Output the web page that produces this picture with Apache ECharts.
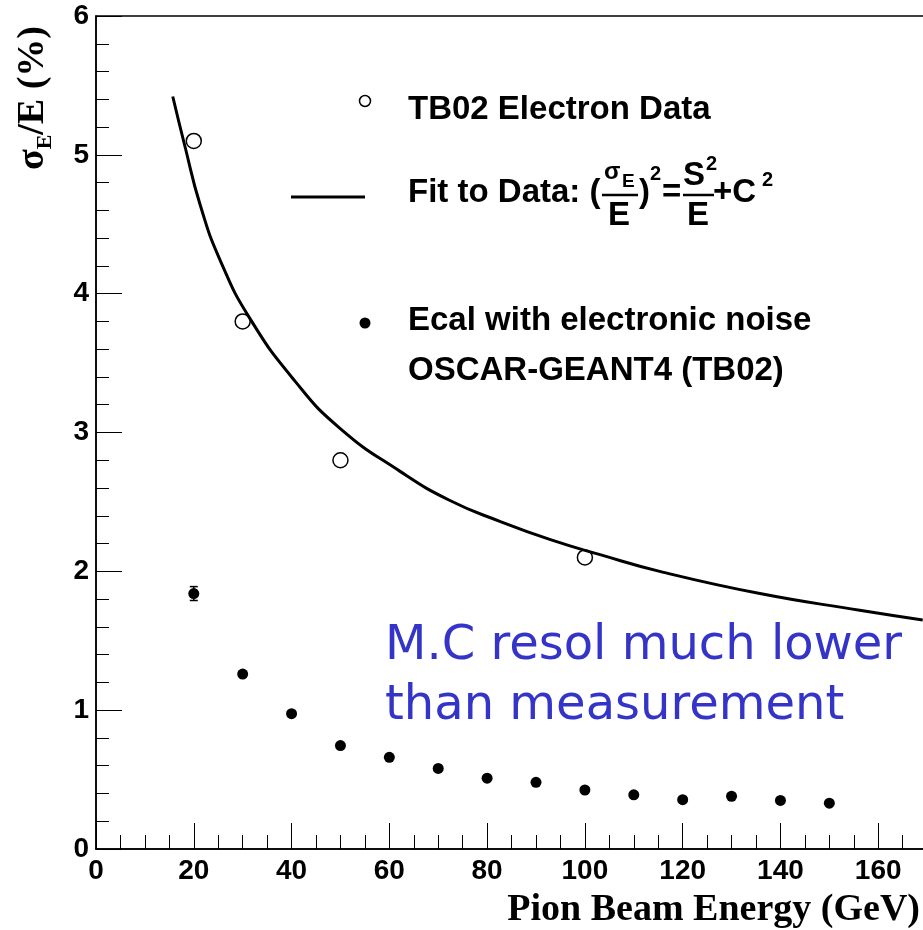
<!DOCTYPE html>
<html>
<head>
<meta charset="utf-8">
<script src="https://cdn.jsdelivr.net/npm/echarts@6/dist/echarts.min.js"></script>
<style>
  html, body { margin: 0; padding: 0; background: #fff; }
  #chart { width: 923px; height: 930px; }
</style>
</head>
<body>
<div id="chart"></div>
<script>
// TB02 electron test-beam measurements (open circles)
const tbEnergy = [20, 30, 50, 100];
const tbResol = [5.10, 3.80, 2.80, 2.10];

// OSCAR-GEANT4 simulation with electronic noise (filled dots)
const mcEnergy = [20, 30, 40, 50, 60, 70, 80, 90, 100, 110, 120, 130, 140, 150];
const mcResol = [1.84, 1.26, 0.975, 0.745, 0.66, 0.58, 0.51, 0.48, 0.425, 0.39, 0.355, 0.38, 0.35, 0.33];
const mcError = [0.05, 0, 0, 0, 0, 0, 0, 0, 0, 0, 0, 0, 0, 0];

// Fitted resolution curve, sampled along its length
const fitEnergy = [15.7, 18.2, 21.3, 25.4, 31.5, 40.7, 49.9, 62.2, 72.4, 82.6, 92.8, 103.1, 115.3, 135.8, 156.2, 169.1];
const fitResol = [5.42, 5.06, 4.64, 4.24, 3.82, 3.37, 3.03, 2.72, 2.51, 2.36, 2.23, 2.12, 2.00, 1.84, 1.72, 1.65];

// Axis ranges
const xRange = [0, 180];
const yRange = [0, 6];

const pair = (xs, ys) => xs.map((x, i) => [x, ys[i]]);

const SANS = 'Liberation Sans, Arial, Helvetica, sans-serif';
const SERIF = 'Liberation Serif, Times New Roman, serif';
const legendFont = 'bold 33px ' + SANS;
const smallFont = 'bold 20px ' + SANS;

const chart = echarts.init(document.getElementById('chart'), null, { renderer: 'canvas' });

function txt(x, y, text, font, extra) {
  return {
    type: 'text', x: x, y: y, silent: true,
    style: Object.assign({ text: text, font: font, fill: '#000', textVerticalAlign: 'middle', textAlign: 'left' }, extra || {})
  };
}

const option = {
  backgroundColor: '#fff',
  animation: false,
  // the frame continues past the right edge of the page
  grid: {
    left: 96, top: 16, width: 880, height: 833,
    outerBoundsMode: 'none', containLabel: false,
    show: true, borderColor: '#000', borderWidth: 1.5, backgroundColor: 'transparent'
  },
  xAxis: {
    type: 'value', min: xRange[0], max: xRange[1], interval: 20,
    axisLine: { show: true, onZero: false, lineStyle: { color: '#000', width: 1.5 } },
    axisTick: { show: true, inside: true, length: 26, lineStyle: { color: '#000', width: 1 } },
    minorTick: { show: true, splitNumber: 4, length: 14, lineStyle: { color: '#000', width: 1 } },
    splitLine: { show: false },
    axisLabel: { show: true, margin: 8, showMaxLabel: false, color: '#000', fontSize: 28, fontWeight: 'bold', fontFamily: SANS }
  },
  yAxis: {
    type: 'value', min: yRange[0], max: yRange[1], interval: 1,
    axisLine: { show: true, onZero: false, lineStyle: { color: '#000', width: 1.5 } },
    axisTick: { show: true, inside: true, length: 26, lineStyle: { color: '#000', width: 1 } },
    minorTick: { show: true, splitNumber: 5, length: 13, lineStyle: { color: '#000', width: 1 } },
    splitLine: { show: false },
    axisLabel: { show: true, margin: 7, color: '#000', fontSize: 28, fontWeight: 'bold', fontFamily: SANS }
  },
  series: [
    {
      name: 'Fit to Data', type: 'line', data: pair(fitEnergy, fitResol),
      smooth: 0.5, showSymbol: false, symbol: 'none',
      lineStyle: { color: '#000', width: 3 }, z: 2
    },
    {
      name: 'TB02 Electron Data', type: 'scatter', data: pair(tbEnergy, tbResol),
      symbol: 'circle', symbolSize: 15,
      itemStyle: { color: 'rgba(255,255,255,0)', borderColor: '#000', borderWidth: 1.5, opacity: 1 }, z: 3
    },
    {
      name: 'MC error', type: 'custom', data: mcEnergy.map((e, i) => [e, mcResol[i], mcError[i]]),
      renderItem: function (params, api) {
        const x = api.value(0), v = api.value(1), err = api.value(2);
        if (!err) return null;
        const lo = api.coord([x, v - err]);
        const hi = api.coord([x, v + err]);
        const cap = 4;
        const st = { stroke: '#000', lineWidth: 1.5 };
        return {
          type: 'group', children: [
            { type: 'line', shape: { x1: lo[0], y1: lo[1], x2: hi[0], y2: hi[1] }, style: st },
            { type: 'line', shape: { x1: lo[0] - cap, y1: lo[1], x2: lo[0] + cap, y2: lo[1] }, style: st },
            { type: 'line', shape: { x1: hi[0] - cap, y1: hi[1], x2: hi[0] + cap, y2: hi[1] }, style: st }
          ]
        };
      }, z: 3
    },
    {
      name: 'Ecal with electronic noise', type: 'scatter', data: pair(mcEnergy, mcResol),
      symbol: 'circle', symbolSize: 11, itemStyle: { color: '#000', opacity: 1 }, z: 4
    }
  ],
  graphic: [
    // y-axis title
    {
      type: 'text', x: 33, y: 98, rotation: Math.PI / 2, silent: true,
      style: {
        text: '{m|σ}{s|E}{m|/E (%)}', textAlign: 'center', textVerticalAlign: 'middle',
        rich: {
          m: { fontFamily: SERIF, fontWeight: 'bold', fontSize: 38, lineHeight: 46, fill: '#000' },
          s: { fontFamily: SERIF, fontWeight: 'bold', fontSize: 22, lineHeight: 22, verticalAlign: 'bottom', fill: '#000' }
        }
      }
    },
    // x-axis title
    txt(920, 910, 'Pion Beam Energy (GeV)', 'bold 38px ' + SERIF, { textAlign: 'right' }),

    // legend: electron data
    { type: 'circle', shape: { cx: 365, cy: 101, r: 5.5 }, style: { fill: 'none', stroke: '#000', lineWidth: 1.5 }, silent: true },
    txt(408, 110, 'TB02 Electron Data', legendFont),

    // legend: fit line and formula
    { type: 'line', shape: { x1: 291, y1: 197, x2: 365, y2: 197 }, style: { stroke: '#000', lineWidth: 3 }, silent: true },
    txt(408, 193, 'Fit to Data: (', legendFont),
    txt(604, 172, 'σ', 'bold 24px ' + SANS),
    txt(622, 182, 'E', 'bold 19px ' + SANS),
    { type: 'line', shape: { x1: 602, y1: 195, x2: 638, y2: 195 }, style: { stroke: '#000', lineWidth: 2.5 }, silent: true },
    txt(619, 216, 'E', legendFont, { textAlign: 'center' }),
    txt(639, 193, ')', legendFont),
    txt(650, 174, '2', smallFont),
    txt(662, 193, '=', legendFont),
    txt(683, 176, 'S', legendFont),
    txt(706, 164, '2', smallFont),
    { type: 'line', shape: { x1: 683, y1: 195, x2: 714, y2: 195 }, style: { stroke: '#000', lineWidth: 2.5 }, silent: true },
    txt(698, 216, 'E', legendFont, { textAlign: 'center' }),
    txt(713, 193, '+C', legendFont),
    txt(762, 180, '2', smallFont),

    // legend: simulation
    { type: 'circle', shape: { cx: 365, cy: 323, r: 5.5 }, style: { fill: '#000' }, silent: true },
    txt(408, 321, 'Ecal with electronic noise', legendFont),
    txt(408, 371, 'OSCAR-GEANT4 (TB02)', legendFont),

    // annotation
    txt(385, 647, 'M.C resol much lower', '48px DejaVu Sans, sans-serif', { fill: '#3434c8' }),
    txt(385, 707, 'than measurement', '48px DejaVu Sans, sans-serif', { fill: '#3434c8' })
  ]
};

chart.setOption(option);
</script>
</body>
</html>
